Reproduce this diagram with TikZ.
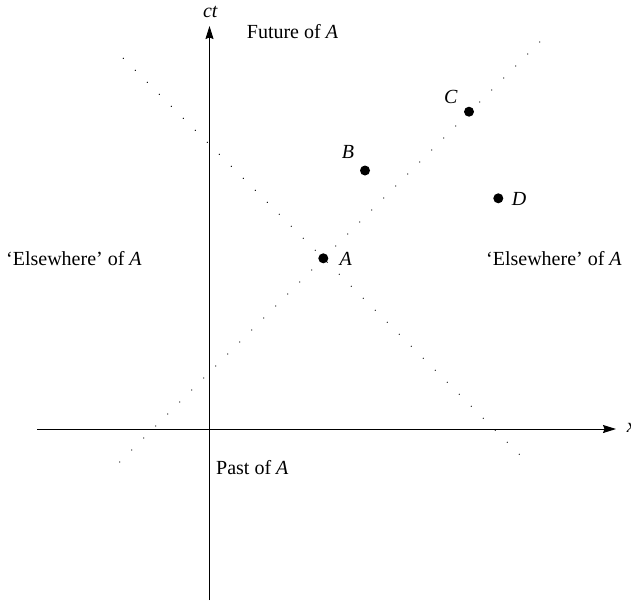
\documentclass[tikz,border=0pt]{standalone}
\usepackage{fontspec}
\setmainfont{Liberation Serif}
\usetikzlibrary{arrows.meta}
\begin{document}
\begin{tikzpicture}[x=1pt,y=-1pt,
  axis/.style={line width=0.9pt,-{Stealth[length=13pt,width=8pt,inset=1.5pt]}},
  cone/.style={line width=1.3pt,line cap=round,dash pattern=on 0pt off 16.97pt},
  event/.style={circle,fill=black,inner sep=0pt,minimum size=10pt},
  lbl/.style={inner sep=0pt,font=\fontsize{20}{24}\selectfont},
]
\useasboundingbox (0,0) rectangle (631,600);
% axes
\coordinate (tb) at (209.5,600);
\coordinate (tt) at (209.5,26);
\coordinate (xl) at (37,429);
\coordinate (xr) at (616,429);
\draw[axis] (tb) -- (tt);
\draw[axis] (xl) -- (xr);
% light cone
\coordinate (l1a) at (119.7,462);
\coordinate (l1b) at (540,41.7);
\coordinate (l2a) at (123.3,58.3);
\coordinate (l2b) at (529.9,464.9);
\draw[cone] (l1a) -- (l1b);
\draw[cone] (l2a) -- (l2b);
% events
\node[event] (A) at (323.3,258.3) {};
\node[event] (B) at (365,170.5) {};
\node[event] (C) at (469,111.7) {};
\node[event] (D) at (498.3,198.3) {};
\node[lbl,anchor=base west] (Al) at (339.3,265) {\textit{A}};
\node[lbl,anchor=base west] (Bl) at (341.7,158) {\textit{B}};
\node[lbl,anchor=base west] (Cl) at (444,103) {\textit{C}};
\node[lbl,anchor=base west] (Dl) at (511.7,205) {\textit{D}};
% axis labels
\node[lbl,anchor=base] (ct) at (210.5,17) {\textit{ct}};
\node[lbl,anchor=west] (xlab) at (626.7,428) {\textit{x}};
% region labels
\node[lbl,anchor=base west] (fut) at (246.7,38) {Future of \textit{A}};
\node[lbl,anchor=base west] (past) at (216,474) {Past of \textit{A}};
\node[lbl,anchor=base west] (elL) at (6,265) {‘Elsewhere’ of \textit{A}};
\node[lbl,anchor=base west] (elR) at (486,265) {‘Elsewhere’ of \textit{A}};
\end{tikzpicture}
\end{document}
